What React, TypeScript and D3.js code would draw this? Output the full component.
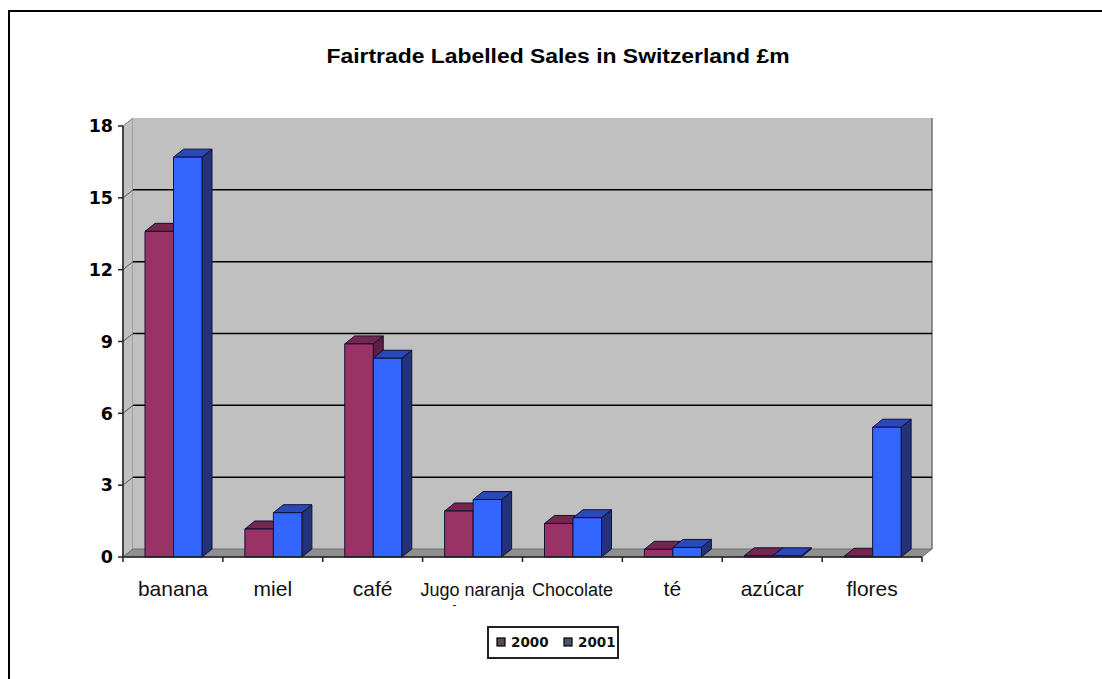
import React from "react";
import * as d3 from "d3";

const categories = ["banana", "miel", "café", "Jugo naranja\n-", "Chocolate", "té", "azúcar", "flores"];
const series = ["2000", "2001"];
const values2000 = [13.6, 1.17, 8.9, 1.92, 1.4, 0.32, 0.05, 0.03];
const values2001 = [16.7, 1.85, 8.3, 2.4, 1.64, 0.4, 0.05, 5.42];
const yTicks = [0, 3, 6, 9, 12, 15, 18];
const title = "Fairtrade Labelled Sales in Switzerland £m";

const W = 1102;
const H = 679;
const X0 = 123;
const X1 = 922;
const Y0 = 557;
const Y1 = 126;
const DX = 10;
const DY = -8;

const front = ["#993366", "#3366ff"];
const side = ["#5e1f3f", "#22337a"];
const topc = ["#74264c", "#2a48b8"];
const legendFill = ["#5b4a55", "#4a5470"];

export default function App() {
  const x = d3.scaleBand<string>().domain(categories).range([X0, X1]).padding(0);
  const s = d3.scaleBand<string>().domain(series).range([22, 79]).padding(0);
  const y = d3.scaleLinear().domain([0, 18]).range([Y0, Y1]);
  const data = [values2000, values2001];
  const small = new Set(["Jugo naranja\n-", "Chocolate"]);

  const bars: JSX.Element[] = [];
  categories.forEach((c, i) => {
    series.forEach((sr, j) => {
      const v = data[j][i];
      const bx = (x(c) as number) + (s(sr) as number);
      const bw = s.bandwidth();
      const top = y(v);
      bars.push(
        <g key={c + sr} stroke="#10103a" strokeWidth={1} strokeLinejoin="round">
          <polygon
            points={`${bx + bw},${top} ${bx + bw + DX},${top + DY} ${bx + bw + DX},${Y0 + DY} ${bx + bw},${Y0}`}
            fill={side[j]}
          />
          <polygon
            points={`${bx},${top} ${bx + DX},${top + DY} ${bx + bw + DX},${top + DY} ${bx + bw},${top}`}
            fill={topc[j]}
          />
          <rect x={bx} y={top} width={bw} height={Y0 - top} fill={front[j]} />
        </g>
      );
    });
  });

  return (
    <svg width={W} height={H} style={{ position: "absolute", left: 0, top: 0, background: "#fff" }}>
      <rect x={0} y={0} width={W} height={H} fill="#fff" />
      <rect x={9} y={11} width={W + 20} height={H + 20} fill="none" stroke="#000" strokeWidth={2} />
      <text
        x={558}
        y={63}
        textAnchor="middle"
        fontFamily="Liberation Sans, Arial, sans-serif"
        fontWeight="bold"
        fontSize={20}
        textLength={463}
        lengthAdjust="spacingAndGlyphs"
        fill="#000"
      >
        {title}
      </text>

      {/* walls */}
      <polygon
        points={`${X0},${Y1} ${X0 + DX},${Y1 + DY} ${X0 + DX},${Y0 + DY} ${X0},${Y0}`}
        fill="#c0c0c0"
        stroke="#808080"
        strokeWidth={1}
      />
      <rect x={X0 + DX} y={Y1 + DY} width={X1 - X0} height={Y0 - Y1} fill="#c0c0c0" />
      <line x1={X1 + DX} x2={X1 + DX} y1={Y1 + DY} y2={Y0 + DY} stroke="#707070" strokeWidth={1.5} />
      <polygon
        points={`${X0},${Y0} ${X0 + DX},${Y0 + DY} ${X1 + DX},${Y0 + DY} ${X1},${Y0}`}
        fill="#8f8f8f"
        stroke="#707070"
        strokeWidth={1}
      />

      {/* gridlines */}
      {yTicks.filter((t) => t > 0 && t < 18).map((t) => (
        <g key={"g" + t}>
          <line x1={X0 + DX} x2={X1 + DX} y1={y(t) + DY} y2={y(t) + DY} stroke="#000" strokeWidth={1.5} />
          <line x1={X0} x2={X0 + DX} y1={y(t)} y2={y(t) + DY} stroke="#555" strokeWidth={1} />
        </g>
      ))}

      {/* y axis */}
      <line x1={X0} x2={X0} y1={Y1} y2={Y0} stroke="#222" strokeWidth={1.5} />
      {yTicks.map((t) => (
        <g key={"t" + t}>
          <line x1={X0 - 5} x2={X0} y1={y(t)} y2={y(t)} stroke="#222" strokeWidth={1.5} />
          <text
            x={113}
            y={y(t)}
            dy="0.36em"
            textAnchor="end"
            fontFamily="DejaVu Sans, Verdana, sans-serif"
            fontWeight="bold"
            fontSize={17.5}
            fill="#000"
          >
            {t}
          </text>
        </g>
      ))}

      {bars}

      {/* x axis */}
      <line x1={X0} x2={X1} y1={Y0} y2={Y0} stroke="#222" strokeWidth={1.5} />
      {categories.concat(["end"]).map((c, i) => {
        const xx = X0 + i * x.bandwidth();
        return <line key={"xt" + i} x1={xx} x2={xx} y1={Y0} y2={Y0 + 5} stroke="#222" strokeWidth={1.5} />;
      })}
      {categories.map((c) => {
        const lines = c.split("\n");
        const cx = (x(c) as number) + x.bandwidth() / 2;
        return (
          <text
            key={"l" + c}
            x={cx}
            y={596}
            textAnchor="middle"
            fontFamily="Liberation Sans, Arial, sans-serif"
            fontSize={small.has(c) ? 18 : 21}
            fill="#111"
          >
            {lines.map((ln, k) => (
              <tspan key={k} x={k === 0 ? cx : cx - 18} dy={k === 0 ? 0 : 13} fontSize={k === 0 ? undefined : 12}>
                {ln}
              </tspan>
            ))}
          </text>
        );
      })}

      {/* legend */}
      <rect x={488} y={627} width={130} height={31} fill="#fff" stroke="#222" strokeWidth={2} />
      {series.map((sr, j) => {
        const lx = j === 0 ? 497 : 564;
        return (
          <g key={"lg" + sr}>
            <rect x={lx} y={638} width={8} height={8} fill={legendFill[j]} stroke="#000" strokeWidth={1.2} />
            <text
              x={lx + 14}
              y={647}
              fontFamily="DejaVu Sans, Verdana, sans-serif"
              fontWeight="bold"
              fontSize={13.5}
              fill="#111"
            >
              {sr}
            </text>
          </g>
        );
      })}
    </svg>
  );
}
